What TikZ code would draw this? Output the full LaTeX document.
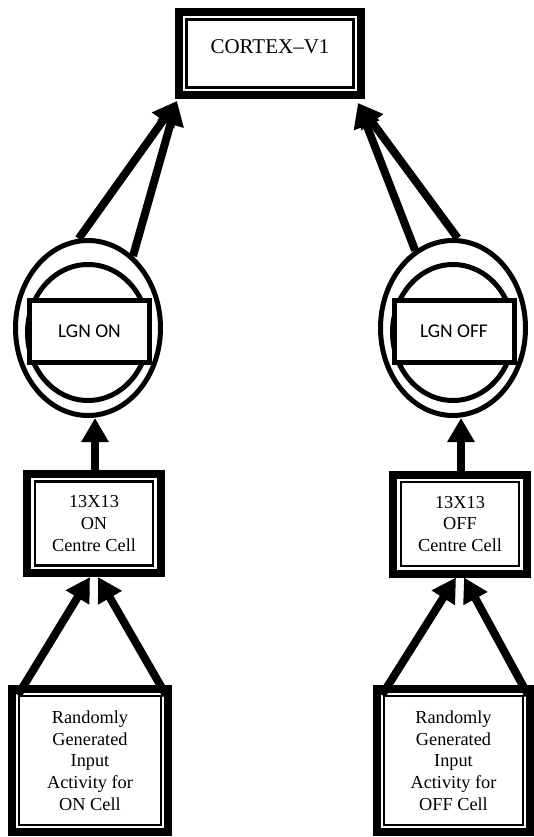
\documentclass[tikz,border=0pt]{standalone}
\usepackage{fontspec}
\setmainfont{Liberation Serif}
\newfontfamily\lgnfont{Carlito}
\usetikzlibrary{arrows.meta,shapes.geometric}
\begin{document}
\begin{tikzpicture}[x=1pt,y=-1pt,
  outerbox/.style={draw,line width=8pt,outer sep=4pt,inner sep=0pt,fill=white,align=center,
    font=\fontsize{18.3pt}{21.7pt}\selectfont},
  innerline/.style={line width=2.5pt},
  ringout/.style={ellipse,draw,line width=5pt,outer sep=2.5pt,inner sep=0pt},
  lgnbox/.style={draw,line width=5pt,fill=white,inner sep=0pt,minimum width=120pt,minimum height=62pt,
    font=\lgnfont\fontsize{19.5pt}{22pt}\selectfont},
  conn/.style={line width=8pt,-{Triangle[width=26pt,length=24pt]}}
]
\useasboundingbox (0,0) rectangle (533,837);

% Cortex
\node[outerbox,minimum width=182pt,minimum height=83pt] (cortex) at (270,53.5) {};
\draw[innerline] ([shift={(11.5,11.5)}]cortex.north west) rectangle ([shift={(-11.5,-11.5)}]cortex.south east);
\node[font=\fontsize{21pt}{24pt}\selectfont,inner sep=0pt] (cortexlbl) at (270,47) {CORTEX–V1};

% LGN ON
\node[ringout,minimum width=145pt,minimum height=175pt] (lgnon) at (88,328) {};
\node[ringout,minimum width=121pt,minimum height=136pt] (lgnonin) at (88,332.5) {};
\node[lgnbox] (lgnonbox) at (89.5,331.5) {LGN ON};

% LGN OFF
\node[ringout,minimum width=145pt,minimum height=175pt] (lgnoff) at (453,328) {};
\node[ringout,minimum width=121pt,minimum height=136pt] (lgnoffin) at (453,332.5) {};
\node[lgnbox] (lgnoffbox) at (454,331) {LGN OFF};

% 13X13 boxes
\node[outerbox,minimum width=134pt,minimum height=99pt] (midon) at (94,523.5) {13X13\\ON\\Centre Cell};
\draw[innerline] ([shift={(12,11.5)}]midon.north west) rectangle ([shift={(-12,-11.5)}]midon.south east);
\node[outerbox,minimum width=134pt,minimum height=99pt] (midoff) at (460,524) {13X13\\OFF\\Centre Cell};
\draw[innerline] ([shift={(12,11.5)}]midoff.north west) rectangle ([shift={(-12,-11.5)}]midoff.south east);

% Input boxes
\node[outerbox,minimum width=156pt,minimum height=143pt] (inon) at (90,760.5) {Randomly\\Generated\\Input\\Activity for\\ON Cell};
\draw[innerline] ([shift={(11,11)}]inon.north west) rectangle ([shift={(-11,-11)}]inon.south east);
\node[outerbox,minimum width=153pt,minimum height=143pt] (inoff) at (453.5,760.5) {Randomly\\Generated\\Input\\Activity for\\OFF Cell};
\draw[innerline] ([shift={(11,11)}]inoff.north west) rectangle ([shift={(-11,-11)}]inoff.south east);

% Connectors: input -> 13X13
\draw[conn] ([shift={(10,10)}]inon.north west) -- ([xshift=-4pt]midon.south);
\draw[conn] ([shift={(-6,10)}]inon.north east) -- ([xshift=4pt]midon.south);
\draw[conn] ([shift={(9,10)}]inoff.north west) -- ([xshift=-4pt]midoff.south);
\draw[conn] ([shift={(-6,10)}]inoff.north east) -- ([xshift=4pt]midoff.south);

% 13X13 -> LGN
\draw[conn] ([xshift=1pt]midon.north) -- ([xshift=1pt]midon.north |- lgnon.south);
\draw[conn] ([xshift=1pt]midoff.north) -- ([xshift=1pt]midoff.north |- lgnoff.south);

% LGN -> Cortex
\draw[conn] (lgnon.96) -- ([shift={(2,2)}]cortex.south west);
\draw[conn] (lgnon.58) -- ([shift={(2,2)}]cortex.south west);
\draw[conn] (lgnoff.116) -- ([shift={(-7,4)}]cortex.south east);
\draw[conn] (lgnoff.87) -- ([shift={(-7,4)}]cortex.south east);
\end{tikzpicture}
\end{document}
